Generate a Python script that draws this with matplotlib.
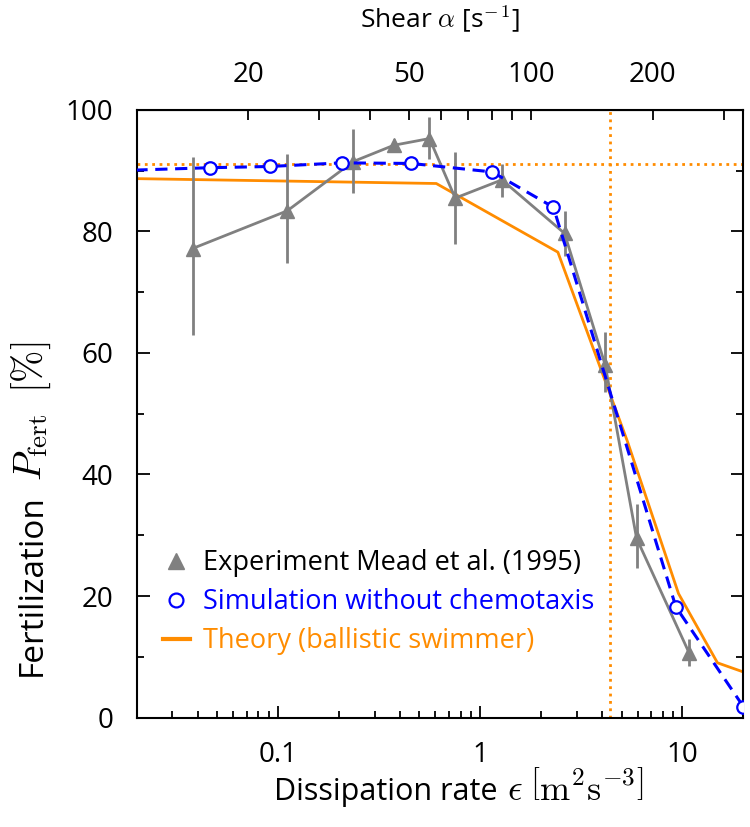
import numpy as np
import matplotlib
matplotlib.use('Agg')
import matplotlib.pyplot as plt
from matplotlib.lines import Line2D
from matplotlib.ticker import FixedLocator, NullFormatter, FixedFormatter

plt.rcParams['font.family'] = ['Open Sans', 'DejaVu Sans']
plt.rcParams['mathtext.fontset'] = 'cm'

# Experiment (Mead et al. 1995)
exp_eps = [0.0378, 0.111, 0.235, 0.374, 0.561, 0.752, 1.28, 2.61, 4.15, 5.93, 10.8]
exp_p = [77.2, 83.4, 91.5, 94.2, 95.3, 85.5, 88.5, 79.7, 58.0, 29.5, 10.6]
exp_lo = [63.0, 74.8, 86.4, 93.2, 92.0, 77.9, 85.7, 75.9, 53.6, 24.6, 8.4]
exp_hi = [92.3, 92.8, 96.8, 95.2, 98.9, 93.1, 91.1, 83.3, 63.5, 35.1, 13.0]

# Simulation without chemotaxis
sim_eps = [0.01, 0.0461, 0.091, 0.206, 0.456, 1.146, 2.30, 9.28, 20.0]
sim_p = [89.8, 90.5, 90.7, 91.3, 91.2, 89.8, 84.0, 18.2, 1.8]

# Theory (ballistic swimmer)
th_eps = [0.02, 0.606, 2.42, 5.35, 9.56, 14.9, 20.0]
th_p = [88.7, 87.9, 76.6, 45.4, 20.4, 9.0, 7.5]

p_ref = 91.1
eps_ref = 4.38

top_ticks = [20, 30, 40, 50, 60, 70, 80, 90, 100, 200, 300]
top_labels = ['20', '', '', '50', '', '', '', '', '100', '200', '']

GRAY = '#808080'
BLUE = '#0000FF'
ORANGE = '#FF8C00'

W, H = 750, 827
fig = plt.figure(figsize=(W / 100, H / 100), dpi=100)
ax = fig.add_axes([0.1823, 0.1324, 0.8088, 0.7346])

ax.axhline(p_ref, color=ORANGE, ls=':', lw=2, zorder=1)
ax.axvline(eps_ref, color=ORANGE, ls=':', lw=2, zorder=1)

ax.plot(th_eps, th_p, color=ORANGE, lw=2, zorder=2)

exp_eps_a = np.array(exp_eps)
exp_p_a = np.array(exp_p)
yerr = [exp_p_a - np.array(exp_lo), np.array(exp_hi) - exp_p_a]
ax.errorbar(exp_eps_a, exp_p_a, yerr=yerr, color=GRAY, lw=2, elinewidth=2,
            marker='^', ms=10, capsize=0, zorder=3)

ax.plot(sim_eps, sim_p, color=BLUE, lw=2.2, ls=(0, (4, 2.5)), marker='o', ms=9,
        mfc='white', mec=BLUE, mew=1.6, markevery=list(range(1, len(sim_eps))),
        zorder=4, clip_on=True)

ax.set_xscale('log')
ax.set_xlim(0.02, 20)
ax.set_ylim(0, 100)
ax.set_yticks([0, 20, 40, 60, 80, 100])
ax.set_yticks([10, 30, 50, 70, 90], minor=True)
ax.set_xticks([0.1, 1, 10])
ax.set_xticklabels(['0.1', '1', '10'])

ax.tick_params(axis='both', which='major', direction='in', length=9, width=1.3,
               labelsize=20, pad=17)
ax.tick_params(axis='both', which='minor', direction='in', length=5, width=1.3)
ax.tick_params(axis='y', which='both', right=True)
ax.tick_params(axis='x', which='both', top=False)
for s in ax.spines.values():
    s.set_linewidth(1.5)

secax = ax.secondary_xaxis('top', functions=(lambda e: 75 * np.sqrt(np.abs(e)),
                                             lambda a: (a / 75.0) ** 2))
secax.set_xscale('log')
secax.xaxis.set_major_locator(FixedLocator(top_ticks))
secax.xaxis.set_major_formatter(FixedFormatter(top_labels))
secax.xaxis.set_minor_locator(FixedLocator([]))
secax.xaxis.set_minor_formatter(NullFormatter())
secax.tick_params(axis='x', which='major', direction='in', length=7, width=1.3,
                  labelsize=20, pad=15)
secax.set_xlabel(r'Shear $\alpha$ [s$^{\mathsf{-\,1}}$]', fontsize=19, labelpad=24)

handles = [
    Line2D([], [], color=GRAY, marker='^', ms=11, ls='none'),
    Line2D([], [], color=BLUE, marker='o', ms=10, mfc='white', mew=1.6, ls='none'),
    Line2D([], [], color=ORANGE, lw=3),
]
labels = ['Experiment Mead et al. (1995)', 'Simulation without chemotaxis',
          'Theory (ballistic swimmer)']
leg = ax.legend(handles, labels, loc='lower left', bbox_to_anchor=(0.025, 0.085),
                frameon=False, fontsize=19.5, handlelength=1.0, handletextpad=0.5,
                labelspacing=0.4, borderaxespad=0)
for t, c in zip(leg.get_texts(), ['black', BLUE, ORANGE]):
    t.set_color(c)

# --- axis labels composed of a sans part and a larger math part ---
renderer = fig.canvas.get_renderer()


def px(x, y):
    return x / W, (H - y) / H


# x label
xt1 = fig.text(0, 0, 'Dissipation rate', fontsize=22, ha='left', va='baseline')
xt2 = fig.text(0, 0, r'$\epsilon\;\left[\mathrm{m^2s^{-3}}\right]$', fontsize=26,
               ha='left', va='baseline')
w1 = xt1.get_window_extent(renderer).width
w2 = xt2.get_window_extent(renderer).width
gap = 9
xc, ybase = 459, 800
x0 = xc - (w1 + gap + w2) / 2
xt1.set_position(px(x0, ybase))
xt2.set_position(px(x0 + w1 + gap, ybase))

# y label (rotated, reading bottom to top)
yt1 = fig.text(0, 0, 'Fertilization', fontsize=24, rotation=90,
               rotation_mode='anchor', ha='left', va='baseline')
yt2 = fig.text(0, 0, r'$P_{\rm fert}\;\;[\%]$', fontsize=28, rotation=90,
               rotation_mode='anchor', ha='left', va='baseline')
h1 = yt1.get_window_extent(renderer).height
h2 = yt2.get_window_extent(renderer).height
xbase = 41
ystart = 676
yt1.set_position(px(xbase, ystart))
yt2.set_position(px(xbase, ystart - h1 - 13))

fig.savefig('out.png', dpi=100)
